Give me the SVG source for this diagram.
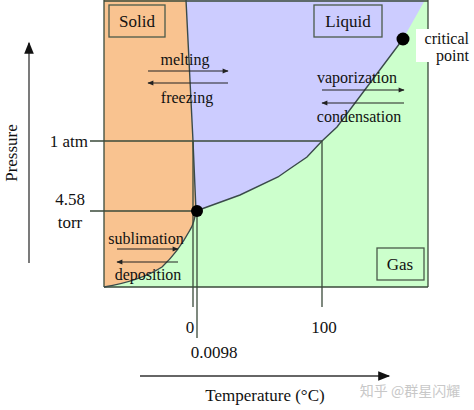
<svg xmlns="http://www.w3.org/2000/svg" width="474" height="410" viewBox="0 0 474 410">
<defs>
<marker id="ah" viewBox="0 0 10 10" refX="9" refY="5" markerWidth="7" markerHeight="6" orient="auto" markerUnits="userSpaceOnUse"><path d="M0,1 L10,5 L0,9 Z" fill="#222"/></marker>
<marker id="axh" viewBox="0 0 10 10" refX="9" refY="5" markerWidth="16" markerHeight="12" orient="auto" markerUnits="userSpaceOnUse"><path d="M0,1 L10,5 L0,9 Z" fill="#111"/></marker>
</defs>
<style>
text{font-family:"Liberation Serif","Times New Roman",serif;fill:#111;}
.lbl{font-size:17px;}
.cp{font-size:16px;}
.pl{font-size:16px;text-anchor:middle;}
.ln{stroke:#3a4a3a;stroke-width:1.3;fill:none;}
.cv{stroke:#3a4a4a;stroke-width:1.4;fill:none;}
.ar{stroke:#222;stroke-width:1.2;fill:none;marker-end:url(#ah);}
.box{fill:none;stroke:#4a5a4a;stroke-width:1.3;}
</style>
<rect width="474" height="410" fill="#fff"/>
<g id="regions">
<rect id="gas-region" x="104" y="0" width="324" height="287" fill="#ccffcc"/>
<path id="solid-region" d="M104,0 L186,0 L193,141 L196,211 Q194,224 190,230 Q178,252 162,267 Q140,281 104,287 Z" fill="#f9c390"/>
<path id="liquid-region" d="M186,0 L425,0 L403,39 L367,87 L337,127 L322,141 L307,157 L288,170 L278,177 L240,195 L196,211 L193,141 Z" fill="#ccccff"/>
</g>
<g id="connectors">
<line class="ln" x1="104" y1="1" x2="428" y2="1" stroke-width="2"/>
<line class="ln" x1="104" y1="0" x2="104" y2="287"/>
<line class="ln" x1="428" y1="0" x2="428" y2="287"/>
<line class="ln" x1="104" y1="287" x2="428" y2="287"/>
<path class="cv" d="M186,0 L193,141 L196,211"/>
<path class="cv" d="M196,211 Q194,224 190,230 Q178,252 162,267 Q140,281 104,287"/>
<path class="cv" d="M196,211 L240,195 L278,177 L288,170 L307,157 L322,141 L337,127 L367,87 L403,39"/>
<line class="ln" x1="90" y1="141" x2="322" y2="141"/>
<line class="ln" x1="322" y1="141" x2="322" y2="307"/>
<line class="ln" x1="90" y1="211" x2="196" y2="211"/>
<line class="ln" x1="193" y1="141" x2="193" y2="307"/>
<line class="ln" x1="197" y1="211" x2="197" y2="338"/>
<line class="ar" x1="148" y1="71" x2="228" y2="71"/>
<line class="ar" x1="228" y1="83" x2="148" y2="83"/>
<line class="ar" x1="322" y1="90" x2="404" y2="90"/>
<line class="ar" x1="404" y1="103" x2="322" y2="103"/>
<line class="ar" x1="117" y1="249" x2="178" y2="249"/>
<line class="ar" x1="178" y1="262" x2="117" y2="262"/>
<line x1="29" y1="263" x2="29" y2="43" stroke="#333" stroke-width="1.3" marker-end="url(#axh)"/>
<line x1="140" y1="376" x2="389" y2="376" stroke="#333" stroke-width="1.3" marker-end="url(#axh)"/>
</g>
<g id="triple-point"><circle cx="197" cy="211" r="6" fill="#000"/></g>
<g id="critical-point">
<circle cx="403" cy="39" r="6.5" fill="#000"/>
<rect x="416" y="29" width="56" height="33" fill="#fff"/>
<text class="cp" x="469" y="44" text-anchor="end">critical</text>
<text class="cp" x="469" y="61" text-anchor="end">point</text>
</g>
<g id="solid-label"><rect class="box" x="109" y="5" width="56" height="32" stroke="#6a4a30"/><text class="lbl" x="137" y="27" text-anchor="middle">Solid</text></g>
<g id="liquid-label"><rect class="box" x="314" y="5" width="68" height="32" stroke="#4a4a6a"/><text class="lbl" x="348" y="27" text-anchor="middle">Liquid</text></g>
<g id="gas-label"><rect class="box" x="377" y="248" width="47" height="32" stroke="#3a6a3a"/><text class="lbl" x="400" y="270" text-anchor="middle">Gas</text></g>
<g id="transitions">
<text class="pl" x="185" y="65">melting</text>
<text class="pl" x="187" y="103">freezing</text>
<text class="pl" x="357" y="83">vaporization</text>
<text class="pl" x="359" y="122">condensation</text>
<text class="pl" x="146" y="244">sublimation</text>
<text class="pl" x="148" y="280">deposition</text>
</g>
<g id="axis-labels">
<text class="lbl" x="0" y="0" text-anchor="middle" transform="translate(17,153) rotate(-90)">Pressure</text>
<text class="lbl" x="88" y="147" text-anchor="end">1 atm</text>
<text class="lbl" x="70" y="205" text-anchor="middle">4.58</text>
<text class="lbl" x="70" y="228" text-anchor="middle">torr</text>
<text class="lbl" x="190" y="333" text-anchor="middle">0</text>
<text class="lbl" x="214" y="358" text-anchor="middle">0.0098</text>
<text class="lbl" x="324" y="333" text-anchor="middle">100</text>
<text class="lbl" x="265" y="401" text-anchor="middle">Temperature (°C)</text>
</g>
<text x="410" y="396" text-anchor="middle" style="font-family:'Noto Sans CJK SC','Noto Sans',sans-serif;font-size:14px;fill:#c8c8c8;">知乎 @群星闪耀</text>
</svg>
